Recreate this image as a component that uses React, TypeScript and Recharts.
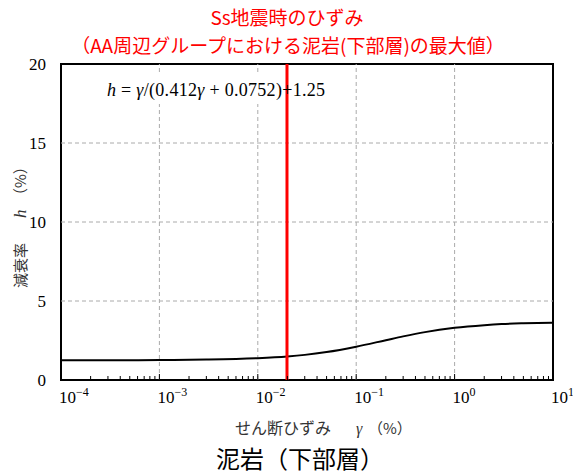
import { LineChart, Line, XAxis, YAxis, ReferenceLine, ReferenceArea } from 'recharts'

// shear strain γ (%) and damping h (%)
const strain = [0.0001, 0.0003, 0.001, 0.003, 0.01, 0.02, 0.03, 0.05, 0.1, 0.2, 0.3, 0.5, 1, 2, 3, 5, 10]
const damping = [1.25, 1.25, 1.26, 1.29, 1.38, 1.49, 1.59, 1.77, 2.11, 2.52, 2.76, 3.03, 3.3, 3.47, 3.54, 3.59, 3.63]

// Ss max strain marker
const maxStrain = 0.0198

const decades = [0.0001, 0.001, 0.01, 0.1, 1]
const minorSteps = [1, 2, 3, 4, 5, 6, 7, 8, 9]
const xTicks = [...decades.flatMap(d => minorSteps.map(m => m * d)), 10]
const gridX = [0.001, 0.01, 0.1, 1]
const yTicks = [0, 5, 10, 15, 20]
const gridY = [5, 10, 15]

const rows = strain.map((g, i) => ({ g, h: damping[i] }))

const SERIF = '"Liberation Serif", "DejaVu Serif", serif'
const JP = '"Noto Sans CJK JP", "Noto Sans", sans-serif'

function XTick(props: any) {
  const { x, y, payload } = props
  const lg = Math.log10(payload.value)
  const exp = Math.round(lg)
  const major = Math.abs(lg - exp) < 1e-6
  const expText = exp < 0 ? '\u2212' + Math.abs(exp) : String(exp)
  return (
    <g>
      <line x1={x} x2={x} y1={y} y2={y - (major ? 6 : 4)} stroke="#000" strokeWidth={1} />
      {major && (
        <text x={x - 2} y={y + 23} fontFamily={SERIF} fontSize={17} fill="#000">
          10<tspan dy={-7} fontSize={12}>{expText}</tspan>
        </text>
      )}
    </g>
  )
}

function YTick(props: any) {
  const { y, payload } = props
  return (
    <text x={46} y={y + 6} textAnchor="end" fontFamily={SERIF} fontSize={17} fill="#000">
      {payload.value}
    </text>
  )
}

export default function App() {
  return (
    <div style={{ position: 'absolute', left: 0, top: 0, width: 573, height: 474, background: '#fff' }}>
      <LineChart width={573} height={474} data={rows} margin={{ top: 64, right: 20, bottom: 0, left: 0 }}>
        <XAxis
          dataKey="g"
          type="number"
          scale="log"
          domain={[0.0001, 10]}
          ticks={xTicks}
          interval={0}
          height={94}
          axisLine={false}
          tickLine={false}
          tickSize={0}
          tickMargin={0}
          tick={<XTick />}
          allowDataOverflow
        />
        <YAxis
          type="number"
          domain={[0, 20]}
          ticks={yTicks}
          interval={0}
          width={61}
          axisLine={false}
          tickLine={false}
          tickSize={0}
          tickMargin={0}
          tick={<YTick />}
        />
        {gridX.map(v => (
          <ReferenceLine key={'gx' + v} x={v} stroke="#aaaaaa" strokeDasharray="4 3" />
        ))}
        {gridY.map(v => (
          <ReferenceLine key={'gy' + v} y={v} stroke="#aaaaaa" strokeDasharray="4 3" />
        ))}
        <Line type="monotone" dataKey="h" stroke="#000" strokeWidth={2} dot={false} isAnimationActive={false} />
        <ReferenceArea x1={0.0001} x2={10} y1={0} y2={20} fill="none" stroke="#000" strokeWidth={2} />
        <ReferenceLine x={maxStrain} stroke="#ff0000" strokeWidth={3} />
      </LineChart>

      <svg width={573} height={474} style={{ position: 'absolute', left: 0, top: 0, pointerEvents: 'none' }}>
        <text x={287} y={25} textAnchor="middle" fontFamily={JP} fontSize={19} fill="#ff0000">Ss地震時のひずみ</text>
        <text x={288} y={53} textAnchor="middle" fontFamily={JP} fontSize={19} fill="#ff0000">（AA周辺グループにおける泥岩(下部層)の最大値）</text>

        <rect x={103} y={74} width={182} height={30} fill="#fff" />
        <text x={107} y={96} fontFamily={SERIF} fontSize={18} fill="#000" textLength={218} lengthAdjust="spacing">
          <tspan fontStyle="italic">h</tspan> = <tspan fontStyle="italic">γ</tspan>/(0.412<tspan fontStyle="italic">γ</tspan> + 0.0752)+1.25
        </text>

        <text transform="rotate(-90)" x={-288} y={26} fontFamily={JP} fontSize={15} fill="#333">減衰率</text>
        <text transform="rotate(-90)" x={-218} y={26} fontFamily={SERIF} fontStyle="italic" fontSize={17} fill="#333">h</text>
        <text transform="rotate(-90)" x={-203} y={26} fontFamily={JP} fontSize={15} fill="#333">（%）</text>

        <text x={235} y={434} fontFamily={JP} fontSize={16} fill="#333">せん断ひずみ</text>
        <text x={356} y={434} fontFamily={SERIF} fontStyle="italic" fontSize={16} fill="#333">γ</text>
        <text x={368} y={434} fontFamily={JP} fontSize={15} fill="#333">（%）</text>

        <text x={300} y={468} textAnchor="middle" fontFamily={JP} fontSize={24} fill="#000">泥岩（下部層）</text>
      </svg>
    </div>
  )
}
